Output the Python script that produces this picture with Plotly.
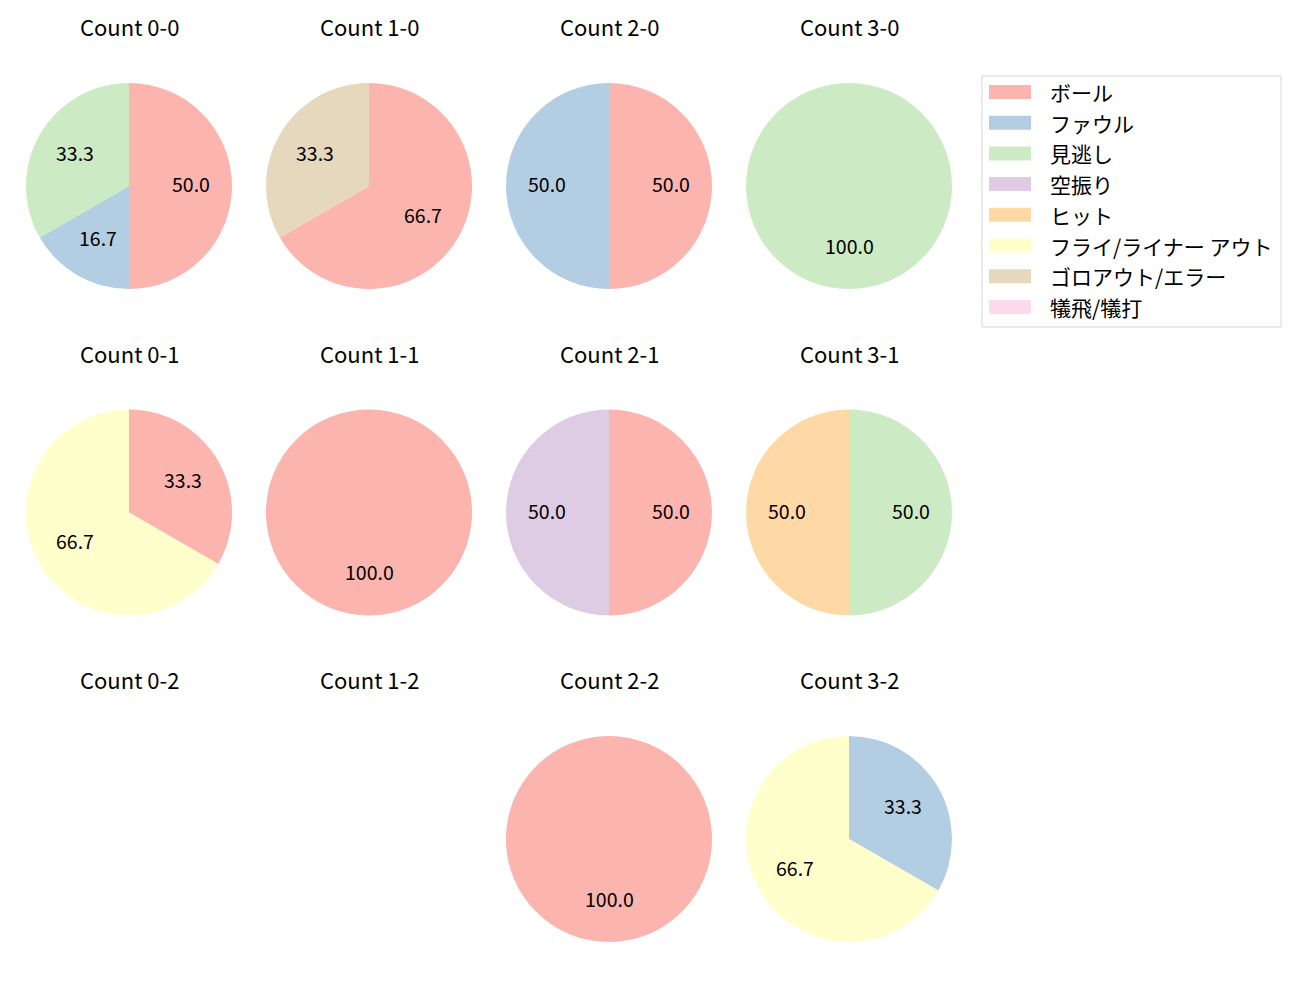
import math
import plotly.graph_objects as go

categories = ["ボール", "ファウル", "見逃し", "空振り", "ヒット",
              "フライ/ライナー アウト", "ゴロアウト/エラー", "犠飛/犠打"]
colors = ["#fbb4ae", "#b3cde3", "#ccebc5", "#decbe4", "#fed9a6",
          "#ffffcc", "#e5d8bd", "#fddaec"]

count_titles = ["Count 0-0", "Count 1-0", "Count 2-0", "Count 3-0",
                "Count 0-1", "Count 1-1", "Count 2-1", "Count 3-1",
                "Count 0-2", "Count 1-2", "Count 2-2", "Count 3-2"]
# values per category, in category order
count_values = [
    [3, 1, 2, 0, 0, 0, 0, 0],   # 0-0
    [2, 0, 0, 0, 0, 0, 1, 0],   # 1-0
    [1, 1, 0, 0, 0, 0, 0, 0],   # 2-0
    [0, 0, 1, 0, 0, 0, 0, 0],   # 3-0
    [1, 0, 0, 0, 0, 2, 0, 0],   # 0-1
    [1, 0, 0, 0, 0, 0, 0, 0],   # 1-1
    [1, 0, 0, 1, 0, 0, 0, 0],   # 2-1
    [0, 0, 1, 0, 1, 0, 0, 0],   # 3-1
    [0, 0, 0, 0, 0, 0, 0, 0],   # 0-2
    [0, 0, 0, 0, 0, 0, 0, 0],   # 1-2
    [1, 0, 0, 0, 0, 0, 0, 0],   # 2-2
    [0, 1, 0, 0, 0, 2, 0, 0],   # 3-2
]

W, H = 1300, 1000
col_cx = [129, 369, 609, 849]
row_cy = [186, 512.5, 839]
R = 103
FONT = "Noto Sans CJK JP"

fig = go.Figure()
annotations = []
shapes = []

for i, (title, vals) in enumerate(zip(count_titles, count_values)):
    r, c = divmod(i, 4)
    cx, cy = col_cx[c], row_cy[r]
    annotations.append(dict(x=cx / W, y=1 - (cy - 160) / H, xref="paper", yref="paper",
                            text=title, showarrow=False, xanchor="center", yanchor="middle",
                            font=dict(size=22, color="black", family=FONT)))
    total = sum(vals)
    if total == 0:
        continue
    labs = [categories[k] for k in range(len(vals)) if vals[k] > 0]
    vs = [vals[k] for k in range(len(vals)) if vals[k] > 0]
    cols = [colors[k] for k in range(len(vals)) if vals[k] > 0]
    fig.add_trace(go.Pie(
        labels=labs, values=vs, sort=False, direction="clockwise", rotation=0,
        marker=dict(colors=cols, line=dict(width=0)),
        textinfo="none", showlegend=False, hole=0,
        domain=dict(x=[(cx - R) / W, (cx + R) / W], y=[1 - (cy + R) / H, 1 - (cy - R) / H]),
    ))
    cum = 0
    for v in vs:
        mid = (cum + v / 2) / total * 2 * math.pi
        cum += v
        tx = cx + 0.6 * R * math.sin(mid)
        ty = cy - 0.6 * R * math.cos(mid) - 2.5
        annotations.append(dict(x=tx / W, y=1 - ty / H, xref="paper", yref="paper",
                                text=f"{v / total * 100:.1f}", showarrow=False,
                                xanchor="center", yanchor="middle",
                                font=dict(size=19.5, color="black", family=FONT)))

# legend box
lx0, ly0, lx1, ly1 = 982, 76, 1281, 327
shapes.append(dict(type="rect", xref="paper", yref="paper",
                   x0=lx0 / W, x1=lx1 / W, y0=1 - ly1 / H, y1=1 - ly0 / H,
                   line=dict(color="#d6d6d6", width=1), fillcolor="white"))
for k, (cat, col) in enumerate(zip(categories, colors)):
    yc = 92 + k * 30.7
    shapes.append(dict(type="rect", xref="paper", yref="paper",
                       x0=989 / W, x1=1031 / W, y0=1 - (yc + 7) / H, y1=1 - (yc - 7) / H,
                       line=dict(width=0), fillcolor=col))
    annotations.append(dict(x=1048 / W, y=1 - yc / H, xref="paper", yref="paper",
                            text=cat, showarrow=False, xanchor="left", yanchor="middle",
                            font=dict(size=21, color="black", family=FONT)))

fig.update_layout(width=W, height=H, margin=dict(l=0, r=0, t=0, b=0),
                  paper_bgcolor="white", plot_bgcolor="white",
                  annotations=annotations, shapes=shapes, showlegend=False)
fig.write_html("out.html")
